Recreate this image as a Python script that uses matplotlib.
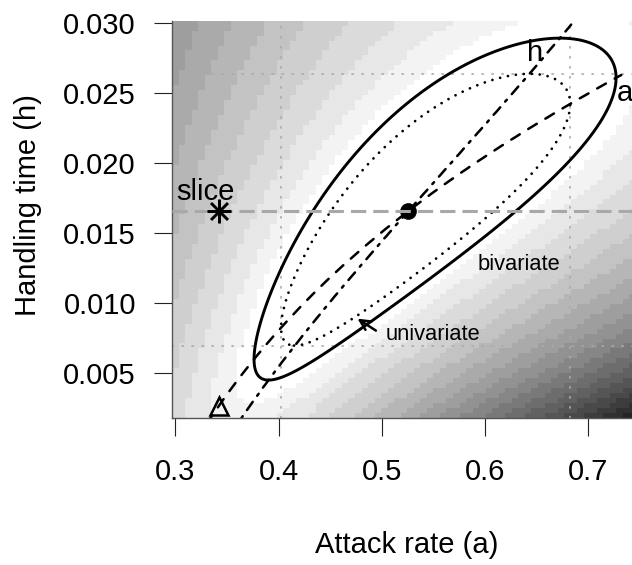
import numpy as np
import matplotlib.pyplot as plt

plt.rcParams['font.family'] = ['Liberation Sans', 'DejaVu Sans']

# Reed frog functional response data
initial = np.array([5, 5, 10, 10, 15, 15, 20, 20, 30, 30, 50, 50, 75, 75, 100, 100])
killed = np.array([1, 2, 5, 6, 10, 9, 7, 10, 11, 15, 5, 21, 32, 18, 25, 35])

# grid for the likelihood surface
avec = np.linspace(0.3, 0.8, 80)
hvec = np.linspace(0.002, 0.03, 80)

a_slice = 0.342  # attack rate where slice and profile are compared
chi1 = 3.841 / 2
chi2 = 5.991 / 2


def nll(a, h):
    a = np.asarray(a, float)[..., None]
    h = np.asarray(h, float)[..., None]
    p = np.clip(a / (1 + a * h * initial), 1e-12, 1 - 1e-12)
    return -(killed * np.log(p) + (initial - killed) * np.log(1 - p)).sum(-1)


# MLE by grid search
ga, gh = np.meshgrid(np.linspace(0.45, 0.62, 400), np.linspace(0.010, 0.024, 400))
gz = nll(ga, gh)
i = np.argmin(gz)
a_mle, h_mle = ga.flat[i], gh.flat[i]
nll_min = gz.flat[i]

# profiles
h_fine = np.linspace(-0.01, 0.05, 6001)
a_fine = np.linspace(0.2, 1.2, 5001)
a_prof = np.linspace(0.30, 0.732, 150)
h_of_a = np.array([h_fine[np.argmin(nll(a, h_fine))] for a in a_prof])
h_prof = np.linspace(0.0018, 0.0299, 150)
a_of_h = np.array([a_fine[np.argmin(nll(a_fine, h))] for h in h_prof])

# univariate CIs from profiles on a wider range
a_w = np.linspace(0.3, 0.8, 300)
pa = np.array([nll(a, h_fine).min() for a in a_w]) - nll_min
h_w = np.linspace(0.0, 0.04, 300)
ph = np.array([nll(a_fine, h).min() for h in h_w]) - nll_min
lo = a_w < a_mle
a_ci = [np.interp(chi1, pa[lo][::-1], a_w[lo][::-1]), np.interp(chi1, pa[~lo], a_w[~lo])]
lo = h_w < h_mle
h_ci = [np.interp(chi1, ph[lo][::-1], h_w[lo][::-1]), np.interp(chi1, ph[~lo], h_w[~lo])]
h_tri = np.interp(a_slice, a_prof, h_of_a)

# surface on image grid, banded grey levels
A, H = np.meshgrid(avec, hvec)
Z = nll(A, H) - nll_min
zw = 3.2
t = np.clip((Z - zw) / (Z.max() - zw), 0, 1) ** 0.55
nlev = 22
k = np.minimum(np.floor(t * nlev), nlev - 1)
gray = 1 - k / (nlev - 1)

da = avec[1] - avec[0]
dh = hvec[1] - hvec[0]
a_edges = np.append(avec - da / 2, avec[-1] + da / 2)
h_edges = np.append(hvec - dh / 2, hvec[-1] + dh / 2)

fig = plt.figure(figsize=(6.32, 5.65), dpi=100)
ax = fig.add_axes([0.2722, 0.2602, 0.8272, 0.7032])
ax.pcolormesh(a_edges, h_edges, gray, cmap='gray', vmin=0, vmax=1, shading='flat')
ax.set_xlim(a_edges[0], a_edges[-1])
ax.set_ylim(h_edges[0], h_edges[-1])

# univariate CI lines
for v in a_ci:
    ax.axvline(v, color='#aaaaaa', lw=1.2, ls=(0, (0.8, 5.2)), dash_capstyle='round')
for v in h_ci:
    ax.axhline(v, color='#aaaaaa', lw=1.2, ls=(0, (0.8, 5.2)), dash_capstyle='round')

# contours
fA, fH = np.meshgrid(np.linspace(0.3, 0.8, 300), np.linspace(0.0, 0.032, 300))
fZ = nll(fA, fH) - nll_min
c1 = ax.contour(fA, fH, fZ, levels=[chi1], colors='black', linewidths=2,
                linestyles=[(0, (0.01, 2.87))])
c1.set_capstyle('round')
ax.contour(fA, fH, fZ, levels=[chi2], colors='black', linewidths=2.1)

# profile traces
ax.plot(a_prof, h_of_a, color='black', lw=1.8, ls=(0, (4, 4)), dash_capstyle='round')
ax.plot(a_of_h, h_prof, color='black', lw=1.8, ls=(0, (1, 3, 4, 3)), dash_capstyle='round')

# MLE, slice line, slice and profile points
ax.plot([a_mle], [h_mle], 'o', color='black', ms=11, zorder=3)
ax.axhline(h_mle, color='#a8a8a8', lw=2.2, ls=(0, (5, 2.3)), zorder=4)
ax.plot([a_slice], [h_mle], marker=(8, 2, 0), color='black', ms=17, mew=1.8, ls='none', zorder=5)
ax.plot([a_slice], [h_tri], '^', mfc='none', mec='black', ms=13, mew=1.8, zorder=5)

fs = 21
ax.text(0.329, 0.01738, 'slice', fontsize=fs, ha='center', va='baseline')
ax.text(0.6489, 0.02788, 'h', fontsize=fs, ha='center', va='center')
ax.text(0.7355, 0.02502, 'a', fontsize=fs, ha='center', va='center')
ax.text(0.6329, 0.01238, 'bivariate', fontsize=fs * 0.75, ha='center', va='baseline')
ax.text(0.5497, 0.00738, 'univariate', fontsize=fs * 0.75, ha='center', va='baseline')
ax.annotate('', xy=(0.4742, 0.00902), xytext=(0.4965, 0.00795),
            arrowprops=dict(arrowstyle='->', color='black', lw=1.8, mutation_scale=18))

ax.set_xticks([0.3, 0.4, 0.5, 0.6, 0.7])
ax.set_xticklabels(['0.3', '0.4', '0.5', '0.6', '0.7'])
ax.set_yticks([0.005, 0.010, 0.015, 0.020, 0.025, 0.030])
ax.set_yticklabels(['0.005', '0.010', '0.015', '0.020', '0.025', '0.030'])
ax.tick_params(direction='out', length=13, width=0.8, labelsize=fs, color='#222222')
ax.tick_params(axis='x', pad=16)
ax.tick_params(axis='y', pad=13)
for s in ['top', 'right']:
    ax.spines[s].set_visible(False)
for s in ['left', 'bottom']:
    ax.spines[s].set_color('#555555')
    ax.spines[s].set_linewidth(1.0)

fig.text(407 / 632, 1 - 545 / 565, 'Attack rate (a)', fontsize=fs, ha='center', va='center')
fig.text(28.5 / 632, 1 - 205 / 565, 'Handling time (h)', fontsize=fs, ha='center', va='center',
         rotation=90)

fig.savefig('out.png', dpi=100)
